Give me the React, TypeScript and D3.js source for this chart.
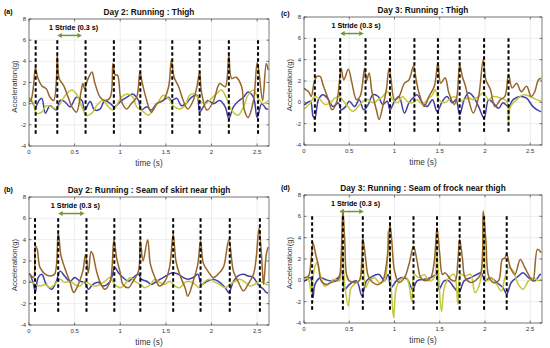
import React from "react";
import * as d3 from "d3";

type Pt = [number, number];

// time axis and acceleration axis ticks
const xTicks = [0, 0.5, 1, 1.5, 2, 2.5];
const yTicks = [-4, -2, 0, 2, 4, 6, 8];

// (a) Day 2 thigh
const strideA = [0.073, 0.31, 0.62, 0.93, 1.22, 1.57, 1.87, 2.19, 2.51];
const arrowA: Pt = [0.31, 0.58];
const brownA: Pt[] = [
  [0.0, 0.2], [0.02, 0.3], [0.05, 1.7], [0.07, 3.4], [0.095, 2.5], [0.14, 1.7], [0.19, 1.4], [0.23, 0.6],
  [0.27, 0.3], [0.3, 2.2], [0.31, 4.6], [0.33, 2.4], [0.38, 1.7], [0.43, 0.6], [0.47, -0.3], [0.52, -0.8],
  [0.57, 1.1], [0.59, 1.9], [0.61, 1.4], [0.64, 2.2], [0.69, 3.0], [0.72, 2.0], [0.78, 0.6], [0.83, 0.3],
  [0.89, 0.6], [0.92, 3.8], [0.945, 2.7], [0.97, 2.7], [1.01, 0.3], [1.07, -0.5], [1.12, 0], [1.18, 0.6],
  [1.215, 3.0], [1.24, 2.0], [1.29, 0.3], [1.34, -0.8], [1.4, 0], [1.47, 0.3], [1.53, 1.6], [1.56, 4.1],
  [1.59, 2.5], [1.64, 1.6], [1.69, 0.3], [1.74, -0.5], [1.8, 0.3], [1.84, 1.6], [1.87, 3.0], [1.89, 1.1],
  [1.95, -0.6], [2.02, 0.2], [2.09, 1.9], [2.15, 1.6], [2.19, 4.6], [2.22, 2.4], [2.27, 2.5], [2.33, 1.6],
  [2.36, -0.6], [2.4, -1.3], [2.46, 0.3], [2.5, 3.9], [2.52, 3.0], [2.56, 0.3], [2.6, 3.8], [2.62, 3.2],
];
const blueA: Pt[] = [
  [0.0, 0.4], [0.01, 0.5], [0.07, -0.3], [0.11, 0.3], [0.14, 0.5], [0.18, -0.9], [0.23, -0.2], [0.3, -0.6],
  [0.34, 0.3], [0.39, 0.2], [0.45, -0.3], [0.52, 0.6], [0.58, 0.3], [0.61, -0.6], [0.67, 0.2], [0.72, -0.6],
  [0.78, -0.5], [0.83, 0.3], [0.89, 0], [0.94, -0.3], [1.0, 0.2], [1.07, 0.6], [1.14, 0.9], [1.2, 0.3],
  [1.23, -0.6], [1.29, -0.3], [1.34, -0.6], [1.4, 0], [1.47, 0.3], [1.53, 0.6], [1.56, 0.3], [1.62, 0.5],
  [1.67, -0.2], [1.72, 0], [1.78, 0.6], [1.84, 0.8], [1.87, -0.8], [1.91, -0.3], [1.96, 0.3], [2.02, 0],
  [2.09, 0.3], [2.15, -0.3], [2.19, -1.4], [2.24, -0.3], [2.29, 0.2], [2.35, 0.6], [2.4, 1.1], [2.46, 0.6],
  [2.5, -1.3], [2.55, 0], [2.6, -0.5], [2.62, -0.5],
];
const greenA: Pt[] = [
  [0.0, 0.5], [0.01, 0.5], [0.05, 0], [0.08, -0.9], [0.14, -0.8], [0.19, -0.2], [0.25, -0.3], [0.3, -0.5],
  [0.36, 0.3], [0.41, 0.9], [0.47, 1.3], [0.52, 0.9], [0.58, -0.3], [0.63, -1.1], [0.69, -0.9], [0.74, -0.2],
  [0.81, 0.3], [0.87, -0.3], [0.92, -0.6], [0.96, -0.2], [1.01, 0.6], [1.09, 0.9], [1.14, 0.6], [1.18, -0.3],
  [1.23, -0.6], [1.31, -1.1], [1.36, -0.6], [1.42, 0.2], [1.47, 0.8], [1.53, 0.5], [1.58, -0.2], [1.65, -0.5],
  [1.71, -0.2], [1.76, 0.8], [1.82, 0.9], [1.87, 0.3], [1.93, 0], [2.0, 0.5], [2.05, 0.9], [2.11, 1.3],
  [2.16, 0.6], [2.22, -0.6], [2.29, -1.1], [2.35, -0.3], [2.4, 0.8], [2.46, 1.3], [2.51, 0.5], [2.57, 0],
  [2.62, 0.3],
];

// (b) Day 2 seam of skirt
const strideB = [0.066, 0.32, 0.63, 0.935, 1.22, 1.58, 1.88, 2.2, 2.53];
const arrowB: Pt = [0.32, 0.61];
const brownB: Pt[] = [
  [0.0, 0.8], [0.01, 0.75], [0.05, 0.45], [0.07, 3.4], [0.09, 3.1], [0.12, 1.4], [0.18, 0.75], [0.23, 0.6],
  [0.28, 0.75], [0.32, 4.65], [0.35, 2.5], [0.39, 1.4], [0.45, 0], [0.49, -0.95], [0.54, -0.2], [0.59, 1.05],
  [0.62, 2.6], [0.65, 0.9], [0.68, 2.9], [0.7, 2.6], [0.74, 1.05], [0.78, 0], [0.83, -0.65], [0.89, 0.1],
  [0.93, 4.0], [0.96, 2.3], [1.0, 0.9], [1.03, -0.2], [1.09, -0.5], [1.14, 0.1], [1.2, 1.05], [1.22, 3.9],
  [1.25, 2.0], [1.3, 4.0], [1.33, 1.7], [1.38, 0.45], [1.43, -0.35], [1.49, 0.1], [1.54, 1.4], [1.58, 4.5],
  [1.61, 2.0], [1.65, 0.75], [1.71, -0.5], [1.74, -1.3], [1.8, 0.1], [1.85, 1.7], [1.88, 3.9], [1.91, 1.8],
  [1.96, 1.05], [2.02, 0.45], [2.07, 0.75], [2.13, 1.4], [2.19, 4.0], [2.24, 1.05], [2.29, 0.1], [2.35, -0.8],
  [2.4, -0.2], [2.46, 0.75], [2.49, 2.3], [2.52, 5.1], [2.55, 2.3], [2.57, -0.2], [2.6, 2.6], [2.62, 3.3],
];
const blueB: Pt[] = [
  [0.0, 0.8], [0.01, 0.75], [0.05, -0.2], [0.07, -0.95], [0.1, 0.45], [0.14, 0.75], [0.19, -0.2], [0.25, -0.65],
  [0.3, 0.1], [0.34, 1.05], [0.39, 0.6], [0.45, 0.1], [0.5, 0.45], [0.56, 0.1], [0.61, 0], [0.65, -0.65],
  [0.7, -0.2], [0.76, 0], [0.81, -0.35], [0.89, 0.1], [0.94, 1.4], [0.98, 0.9], [1.03, 0.45], [1.09, 0.1],
  [1.14, 0.45], [1.2, 0.75], [1.23, 0.3], [1.29, 0.1], [1.34, -0.2], [1.4, 0.1], [1.47, 0.45], [1.53, 0.75],
  [1.58, 0.9], [1.64, 0.75], [1.69, 0.45], [1.74, 0.3], [1.8, 0.45], [1.85, 0.75], [1.89, -0.2], [1.95, 0.1],
  [2.02, 0.3], [2.09, 0], [2.15, -0.5], [2.19, -0.95], [2.24, 0.1], [2.29, 0.6], [2.35, 0.75], [2.4, 0.6],
  [2.46, 0.45], [2.51, -0.2], [2.57, -0.65], [2.6, -0.95], [2.62, -1.0],
];
const greenB: Pt[] = [
  [0.0, 0.1], [0.01, 0.1], [0.07, -0.2], [0.12, -0.35], [0.18, -0.2], [0.23, -0.5], [0.28, -0.2], [0.34, 0.3],
  [0.39, 0], [0.45, 0.1], [0.5, -0.2], [0.56, -0.35], [0.61, 0.1], [0.67, -0.2], [0.72, -0.35], [0.78, -0.2],
  [0.83, 0.1], [0.89, 0.45], [0.94, -0.2], [1.0, -0.5], [1.05, -0.2], [1.11, 0.45], [1.16, 0.1], [1.22, -0.2],
  [1.27, -0.5], [1.33, -0.2], [1.38, 0.3], [1.43, 0], [1.49, -0.2], [1.54, 0.1], [1.6, -0.35], [1.65, -0.5],
  [1.71, 0], [1.76, 0.1], [1.82, -0.2], [1.87, -0.5], [1.93, 0.1], [1.98, 0.3], [2.04, 0], [2.09, -0.2],
  [2.15, -0.5], [2.2, -0.2], [2.26, 0.1], [2.31, 0.3], [2.37, 0], [2.42, -0.35], [2.47, -0.2], [2.53, 0.1],
  [2.6, -0.2], [2.62, -0.2],
];

// (c) Day 3 thigh
const strideC = [0.12, 0.4, 0.68, 0.95, 1.22, 1.48, 1.72, 1.99, 2.26];
const arrowC: Pt = [0.4, 0.66];
const brownC: Pt[] = [
  [0.0, 1.3], [0.01, 1.25], [0.05, 1.0], [0.08, 0.55], [0.11, 1.8], [0.14, 2.4], [0.18, 2.4], [0.21, 1.65],
  [0.27, 0.25], [0.31, -0.7], [0.36, 0], [0.39, 1.8], [0.41, 3.2], [0.44, 2.1], [0.49, 3.1], [0.53, 1.8],
  [0.58, 0.25], [0.62, 0.55], [0.67, 3.2], [0.69, 2.0], [0.72, 2.75], [0.75, 1.0], [0.8, -0.7], [0.83, -1.6],
  [0.87, -0.4], [0.91, 1.2], [0.94, 3.2], [0.96, 2.3], [1.0, 0.25], [1.05, 0.55], [1.11, 1.8], [1.16, 2.1],
  [1.21, 3.4], [1.24, 2.1], [1.27, 0.9], [1.33, -0.4], [1.38, 0.55], [1.44, 1.5], [1.48, 3.7], [1.51, 1.8],
  [1.56, 2.3], [1.6, 0.9], [1.66, -0.2], [1.69, 0.55], [1.72, 3.5], [1.75, 2.4], [1.78, 1.65], [1.82, 0.25],
  [1.87, -1.0], [1.93, 0.55], [1.98, 4.0], [2.01, 2.1], [2.06, 1.2], [2.11, -0.4], [2.17, 0.25], [2.22, 0.55],
  [2.26, 2.6], [2.3, 1.35], [2.35, 1.8], [2.4, 1.0], [2.46, 1.5], [2.51, 0.55], [2.55, 1.0], [2.59, 2.1],
  [2.62, 2.25],
];
const blueC: Pt[] = [
  [0.0, -0.2], [0.01, -0.2], [0.07, 0.1], [0.1, -1.3], [0.12, -1.5], [0.16, 0.25], [0.21, 0.7], [0.27, 0.25],
  [0.32, -0.4], [0.38, -0.05], [0.41, -0.7], [0.46, -0.4], [0.5, 0.1], [0.56, -0.4], [0.61, 0.25], [0.66, -0.7],
  [0.71, -0.2], [0.76, 0.7], [0.82, 0.55], [0.87, -0.2], [0.92, 0.1], [0.95, -0.7], [1.0, 0.1], [1.05, 0.55],
  [1.11, -1.0], [1.16, -0.05], [1.22, 0.55], [1.25, 0.7], [1.31, -0.05], [1.36, -0.4], [1.42, 0.25], [1.47, -0.85],
  [1.53, 0.1], [1.58, 0.55], [1.64, -0.05], [1.68, 0.25], [1.72, -1.15], [1.77, 0.25], [1.82, 0.9], [1.87, 0.55],
  [1.93, -0.4], [1.99, -1.5], [2.04, 0.25], [2.09, -0.05], [2.15, -0.55], [2.2, -0.05], [2.26, -0.4], [2.31, 0.25],
  [2.39, 0.55], [2.46, 0.4], [2.53, -0.4], [2.61, -0.85], [2.62, -0.85],
];
const greenC: Pt[] = [
  [0.0, -0.55], [0.01, -0.55], [0.07, -0.05], [0.12, 0.55], [0.18, 0.25], [0.23, -0.2], [0.29, -0.05], [0.34, 0.4],
  [0.39, 0.55], [0.45, -0.05], [0.5, -0.55], [0.54, -0.85], [0.6, -0.4], [0.65, 0.1], [0.71, 0.25], [0.76, -0.05],
  [0.82, 0.25], [0.87, 0.55], [0.92, 1.0], [0.98, 0.25], [1.03, -0.05], [1.09, 0.55], [1.14, 0.1], [1.2, -0.05],
  [1.25, 0.25], [1.31, -0.2], [1.36, 0.25], [1.42, 0.7], [1.45, 1.2], [1.49, 0.25], [1.55, -0.05], [1.6, 0.25],
  [1.66, 0.55], [1.71, 0.1], [1.77, 0.25], [1.82, 0.4], [1.87, 0.25], [1.93, 0.55], [1.98, 0.9], [2.04, 0.25],
  [2.09, 0.55], [2.17, 0.4], [2.24, 0.1], [2.26, -1.9], [2.28, -0.4], [2.35, 0.25], [2.42, 0.7], [2.5, 0.55],
  [2.57, 0.25], [2.62, 0.1],
];

// (d) Day 3 seam of frock
const strideD = [0.09, 0.43, 0.65, 0.95, 1.21, 1.47, 1.72, 1.99, 2.24];
const arrowD: Pt = [0.39, 0.66];
const brownD: Pt[] = [
  [0.0, 0.25], [0.01, 0.25], [0.05, 0.4], [0.08, 2.1], [0.1, 3.5], [0.13, 2.4], [0.16, 1.35], [0.19, -0.05],
  [0.25, -0.4], [0.3, -0.2], [0.36, -0.05], [0.39, 0.25], [0.41, 2.1], [0.43, 6.65], [0.45, 3.7], [0.47, 0.55],
  [0.5, -0.05], [0.56, -0.2], [0.61, -0.05], [0.64, 2.1], [0.65, 4.0], [0.68, 2.1], [0.71, 0.4], [0.76, -0.2],
  [0.82, -0.4], [0.87, -0.05], [0.92, 2.1], [0.95, 5.25], [0.97, 3.7], [1.0, 0.9], [1.05, -0.2], [1.11, 0.25],
  [1.16, 1.5], [1.21, 3.2], [1.25, 1.8], [1.29, 0.25], [1.34, -0.05], [1.4, 0.25], [1.44, 1.8], [1.47, 4.95],
  [1.5, 2.45], [1.53, 0.55], [1.56, 0.7], [1.62, 0.1], [1.67, -0.05], [1.7, 1.8], [1.72, 3.85], [1.75, 2.1],
  [1.78, 0.25], [1.84, -0.2], [1.89, -0.05], [1.95, 0.55], [1.98, 6.5], [2.01, 3.7], [2.04, 0.4], [2.09, -0.2],
  [2.15, -0.05], [2.19, 1.95], [2.22, 2.1], [2.24, 2.45], [2.28, 1.2], [2.33, 0.55], [2.39, 1.95], [2.44, 1.2],
  [2.5, 0.25], [2.53, -0.05], [2.58, 2.9], [2.62, 2.6],
];
const blueD: Pt[] = [
  [0.0, -0.05], [0.01, -0.05], [0.07, 0.25], [0.1, -1.6], [0.12, -0.4], [0.18, 0.25], [0.23, 0.1], [0.3, -0.05],
  [0.38, 0.25], [0.42, 0.9], [0.45, -0.85], [0.5, -0.4], [0.58, -0.05], [0.64, -1.45], [0.69, -0.05], [0.76, 0.4],
  [0.83, 0.55], [0.89, -0.05], [0.93, 0.55], [0.96, -0.7], [1.02, -0.05], [1.07, 0.25], [1.14, 0.1], [1.2, -0.85],
  [1.25, -0.05], [1.33, 0.1], [1.4, 0.25], [1.47, 0.55], [1.49, -0.85], [1.55, -0.05], [1.6, -0.05], [1.66, -0.7],
  [1.71, -1.15], [1.77, -0.05], [1.84, 0.25], [1.91, 0.55], [1.96, 0.7], [2.0, -0.05], [2.06, 0.25], [2.13, -0.2],
  [2.2, -0.7], [2.24, -1.3], [2.29, -0.2], [2.37, 0.4], [2.42, 0.7], [2.48, 0.25], [2.55, -0.05], [2.61, 0.55],
  [2.62, 0.55],
];
const greenD: Pt[] = [
  [0.0, 0.25], [0.01, 0.25], [0.05, 0.1], [0.08, -1.15], [0.11, 0.9], [0.14, 1.65], [0.18, 0.55], [0.23, -0.55],
  [0.29, -0.2], [0.34, 0.1], [0.39, -0.05], [0.42, 3.7], [0.45, -0.4], [0.49, -2.4], [0.52, -0.7], [0.58, -0.2],
  [0.62, 0.1], [0.65, 2.1], [0.68, -0.7], [0.72, -0.05], [0.78, 0.25], [0.83, -0.2], [0.89, -0.05], [0.93, 4.6],
  [0.96, -0.05], [0.99, -3.5], [1.02, -0.7], [1.07, 0.1], [1.13, 0.25], [1.16, -0.4], [1.19, -1.95], [1.22, 0.55],
  [1.27, 0.25], [1.33, 0.55], [1.38, -0.05], [1.44, 0.25], [1.46, 3.7], [1.49, -0.05], [1.52, -2.9], [1.55, -0.7],
  [1.6, 0.25], [1.66, 0.55], [1.7, -2.25], [1.73, 0.55], [1.78, 0.4], [1.84, 0.55], [1.89, -1.15], [1.95, -0.05],
  [1.99, 4.6], [2.02, -0.05], [2.07, 0.25], [2.13, -0.4], [2.18, -1.0], [2.22, 0.25], [2.26, 1.2], [2.31, 0.9],
  [2.37, -0.4], [2.42, -0.85], [2.48, -0.05], [2.53, 0.25], [2.59, -0.05], [2.62, 0.1],
];

const FONT = "Arial, 'Liberation Sans', sans-serif";
const BLUE = "#4040a6";
const GREEN = "#c2c83c";
const BROWN = "#96662b";

type PanelProps = {
  id: string;
  tag: string;
  title: string;
  x: number;
  y: number;
  w: number;
  h: number;
  tagX: number;
  tagY: number;
  strides: number[];
  arrow: Pt;
  blue: Pt[];
  green: Pt[];
  brown: Pt[];
};

function Panel(p: PanelProps) {
  const xs = d3.scaleLinear().domain([0, 2.63]).range([0, p.w]);
  const ys = d3.scaleLinear().domain([-4, 8]).range([p.h, 0]);
  const line = d3
    .line<Pt>()
    .x((d) => xs(d[0]))
    .y((d) => ys(d[1]))
    .curve(d3.curveCatmullRom.alpha(0.5));
  const ay = ys(6.45);
  const ax0 = xs(p.arrow[0]);
  const ax1 = xs(p.arrow[1]);
  return (
    <g>
      <text x={p.tagX} y={p.tagY} fontSize={7} fontWeight="bold" fontFamily={FONT}>
        {p.tag}
      </text>
      <g transform={`translate(${p.x},${p.y})`}>
        <defs>
          <clipPath id={`clip-${p.id}`}>
            <rect x={0} y={0} width={p.w} height={p.h} />
          </clipPath>
        </defs>
        <rect x={0} y={0} width={p.w} height={p.h} fill="#fff" />
        {xTicks.map((t) => (
          <line key={`gx${t}`} x1={xs(t)} x2={xs(t)} y1={0} y2={p.h} stroke="#e3e3e3" strokeWidth={0.6} />
        ))}
        {yTicks.map((t) => (
          <line key={`gy${t}`} x1={0} x2={p.w} y1={ys(t)} y2={ys(t)} stroke="#e3e3e3" strokeWidth={0.6} />
        ))}
        <g clipPath={`url(#clip-${p.id})`} strokeLinejoin="round">
          <path d={line(p.blue) ?? ""} fill="none" stroke={BLUE} strokeWidth={1.5} />
          <path d={line(p.green) ?? ""} fill="none" stroke={GREEN} strokeWidth={1.5} />
          <path d={line(p.brown) ?? ""} fill="none" stroke={BROWN} strokeWidth={1.5} />
        </g>
        {p.strides.map((t) => (
          <line
            key={`s${t}`}
            x1={xs(t)}
            x2={xs(t)}
            y1={ys(6)}
            y2={ys(-3)}
            stroke="#000"
            strokeWidth={2}
            strokeDasharray="3.5,2.5"
          />
        ))}
        <line x1={ax0 + 3} x2={ax1 - 3} y1={ay} y2={ay} stroke="#6f9a33" strokeWidth={1.5} />
        <path d={`M${ax0},${ay}l4.5,-2.5v5z`} fill="#6f9a33" />
        <path d={`M${ax1},${ay}l-4.5,-2.5v5z`} fill="#6f9a33" />
        <text
          x={(ax0 + ax1) / 2 + 4}
          y={ys(7.0)}
          fontSize={7.2}
          fontWeight="bold"
          textAnchor="middle"
          fontFamily={FONT}
        >
          1 Stride (0.3 s)
        </text>
        <rect x={0} y={0} width={p.w} height={p.h} fill="none" stroke="#2b2b2b" strokeWidth={0.6} />
        {xTicks.map((t) => (
          <g key={`xt${t}`}>
            <line x1={xs(t)} x2={xs(t)} y1={p.h} y2={p.h - 2.5} stroke="#2b2b2b" strokeWidth={0.6} />
            <line x1={xs(t)} x2={xs(t)} y1={0} y2={2.5} stroke="#2b2b2b" strokeWidth={0.6} />
            <text x={xs(t)} y={p.h + 8} fontSize={6} fill="#333" textAnchor="middle" fontFamily={FONT}>
              {t}
            </text>
          </g>
        ))}
        {yTicks.map((t) => (
          <g key={`yt${t}`}>
            <line x1={0} x2={2.5} y1={ys(t)} y2={ys(t)} stroke="#2b2b2b" strokeWidth={0.6} />
            <line x1={p.w} x2={p.w - 2.5} y1={ys(t)} y2={ys(t)} stroke="#2b2b2b" strokeWidth={0.6} />
            <text x={-3} y={ys(t) + 2.1} fontSize={6} fill="#333" textAnchor="end" fontFamily={FONT}>
              {t}
            </text>
          </g>
        ))}
        <text
          x={p.w / 2}
          y={-4}
          fontSize={8.3}
          fontWeight="bold"
          textAnchor="middle"
          fill="#111"
          fontFamily={FONT}
        >
          {p.title}
        </text>
        <text x={p.w / 2} y={p.h + 20} fontSize={8.2} textAnchor="middle" fill="#333" fontFamily={FONT}>
          time (s)
        </text>
        <text
          transform={`translate(-12.5,${p.h / 2 + 4}) rotate(-90)`}
          fontSize={7.8}
          textAnchor="middle"
          fill="#333"
          fontFamily={FONT}
        >
          Acceleration(g)
        </text>
      </g>
    </g>
  );
}

export default function App() {
  return (
    <svg
      width={550}
      height={348}
      style={{ position: "absolute", left: 0, top: 0, background: "#fff" }}
    >
      <Panel id="a" tag="(a)" title="Day 2: Running : Thigh" x={29} y={19} w={240} h={127} tagX={4} tagY={14}
        strides={strideA} arrow={arrowA} blue={blueA} green={greenA} brown={brownA} />
      <Panel id="c" tag="(c)" title="Day 3: Running : Thigh" x={304} y={17} w={238} h={128} tagX={281} tagY={16}
        strides={strideC} arrow={arrowC} blue={blueC} green={greenC} brown={brownC} />
      <Panel id="b" tag="(b)" title="Day 2: Running : Seam of skirt near thigh" x={29} y={197} w={240} h={128} tagX={4} tagY={192}
        strides={strideB} arrow={arrowB} blue={blueB} green={greenB} brown={brownB} />
      <Panel id="d" tag="(d)" title="Day 3: Running : Seam of frock near thigh" x={304} y={195} w={238} h={128} tagX={281} tagY={190}
        strides={strideD} arrow={arrowD} blue={blueD} green={greenD} brown={brownD} />
    </svg>
  );
}
